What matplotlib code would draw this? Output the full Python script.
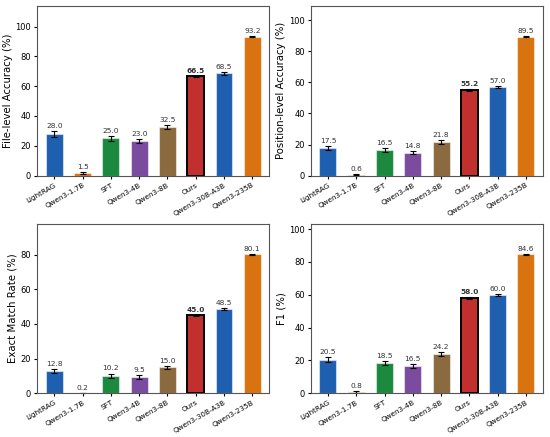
import numpy as np
import matplotlib
matplotlib.use('Agg')
import matplotlib.pyplot as plt

models = ['LightRAG', 'Qwen3-1.7B', 'SFT', 'Qwen3-4B', 'Qwen3-8B', 'Ours', 'Qwen3-30B-A3B', 'Qwen3-235B']
colors = ['#1f5fb0', '#d8730f', '#1b8a3f', '#7a4b9f', '#8a6a3e', '#c1302f', '#1f5fb0', '#d8730f']

file_acc = [28.0, 1.5, 25.0, 23.0, 32.5, 66.5, 68.5, 93.2]
file_err = [1.8, 0.6, 1.6, 1.4, 1.3, 0.6, 0.8, 0.3]
pos_acc = [17.5, 0.6, 16.5, 14.8, 21.8, 55.2, 57.0, 89.5]
pos_err = [1.3, 0.4, 1.5, 1.2, 1.2, 0.6, 0.8, 0.3]
em_rate = [12.8, 0.2, 10.2, 9.5, 15.0, 45.0, 48.5, 80.1]
em_err = [1.0, 0.2, 1.2, 1.0, 0.9, 0.4, 0.7, 0.3]
f1 = [20.5, 0.8, 18.5, 16.5, 24.2, 58.0, 60.0, 84.6]
f1_err = [1.5, 0.4, 1.4, 1.2, 1.2, 0.4, 0.7, 0.3]

panels = [
    (file_acc, file_err, 'File-level Accuracy (%)'),
    (pos_acc, pos_err, 'Position-level Accuracy (%)'),
    (em_rate, em_err, 'Exact Match Rate (%)'),
    (f1, f1_err, 'F1 (%)'),
]

fig, axes = plt.subplots(2, 2, figsize=(5.5, 4.37), dpi=100)
plt.subplots_adjust(left=0.068, right=0.987, top=0.986, bottom=0.1, wspace=0.18, hspace=0.285)

x = np.arange(len(models))
for ax, (vals, errs, ylab) in zip(axes.flat, panels):
    bars = ax.bar(x, vals, width=0.6, color=colors, edgecolor=(1, 1, 1, 0.5), linewidth=0.8,
                  yerr=errs, capsize=2.2, error_kw=dict(elinewidth=0.8, capthick=0.8, ecolor='black'))
    # highlight ours
    bars[5].set_edgecolor('black')
    bars[5].set_linewidth(1.4)
    top = max(vals) * 1.22
    for i, (v, e) in enumerate(zip(vals, errs)):
        ax.text(i, v + e + top * 0.012, f'{v:.1f}', ha='center', va='bottom', fontsize=5.3,
                color='#333333', fontweight='bold' if i == 5 else 'normal')
    ax.set_ylim(0, top)
    ax.set_xlim(-0.6, len(models) - 0.4)
    ax.set_xticks(x)
    ax.set_xticklabels(models, rotation=30, ha='right', fontsize=5.2, rotation_mode='anchor')
    ax.tick_params(axis='y', labelsize=6, length=2.5, pad=2)
    ax.tick_params(axis='x', length=2.5, pad=2)
    ax.set_ylabel(ylab, fontsize=7.3, labelpad=2)
    for s in ax.spines.values():
        s.set_color('#555555')
        s.set_linewidth(0.8)

plt.savefig('out.png', dpi=100)
